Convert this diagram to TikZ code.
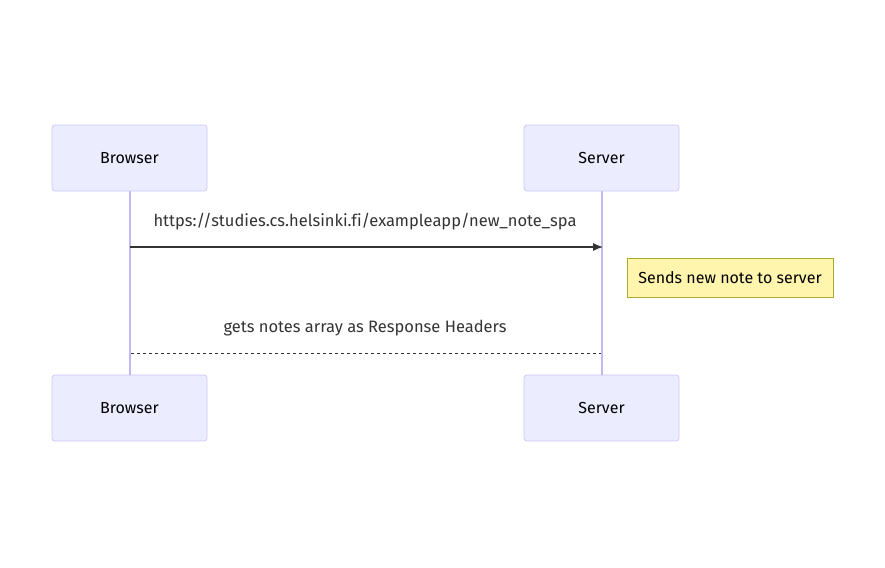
\documentclass[tikz,border=0pt]{standalone}
\usepackage{fontspec}
\setmainfont[Ligatures=NoCommon]{Fira Sans}
\usetikzlibrary{arrows.meta}
\definecolor{actfill}{HTML}{ECECFF}
\definecolor{actdraw}{HTML}{CFC7F5}
\definecolor{lifedraw}{HTML}{C4B8F2}
\definecolor{notefill}{HTML}{FFF5AD}
\definecolor{notedraw}{HTML}{AAAA33}
\definecolor{ink}{HTML}{333333}
\tikzset{
  actor/.style={draw=actdraw, fill=actfill, rounded corners=3pt, minimum width=155pt, minimum height=66pt, inner sep=0pt, font=\fontsize{16}{18}\selectfont, line width=0.8pt},
  lifeline/.style={draw=lifedraw, line width=2pt},
  msg/.style={draw=ink, line width=1.1pt},
  msglabel/.style={font=\fontsize{16.5}{18}\selectfont, text=ink, inner sep=0pt},
  notebox/.style={draw=notedraw, fill=notefill, minimum width=206pt, minimum height=39pt, inner sep=0pt, font=\fontsize{16}{18}\selectfont, line width=0.8pt}
}
\begin{document}
\begin{tikzpicture}[x=1pt,y=-1pt]
\useasboundingbox (0,0) rectangle (885,567);
\node[actor] (bt) at (129.5,158) {Browser};
\node[actor] (st) at (601.5,158) {Server};
\node[actor] (bb) at (129.5,408) {Browser};
\node[actor] (sb) at (601.5,408) {Server};
\draw[lifeline] (bt.south) -- (bb.north);
\draw[lifeline] (st.south) -- (sb.north);
\coordinate (a1) at (129.5,247);
\coordinate (a2) at (603,247);
\draw[msg,-{Latex[length=10pt,width=8pt]}] (a1) -- (a2);
\node[msglabel] (l1) at (365,222) {https://studies.cs.helsinki.fi/exampleapp/new\_note\_spa};
\node[notebox] (note) at (730,278) {Sends new note to server};
\coordinate (d1) at (131,353);
\coordinate (d2) at (601,353);
\draw[msg, dash pattern=on 3pt off 3pt, line width=1pt] (d1) -- (d2);
\node[msglabel] (l2) at (365,328) {gets notes array as Response Headers};
\end{tikzpicture}
\end{document}
